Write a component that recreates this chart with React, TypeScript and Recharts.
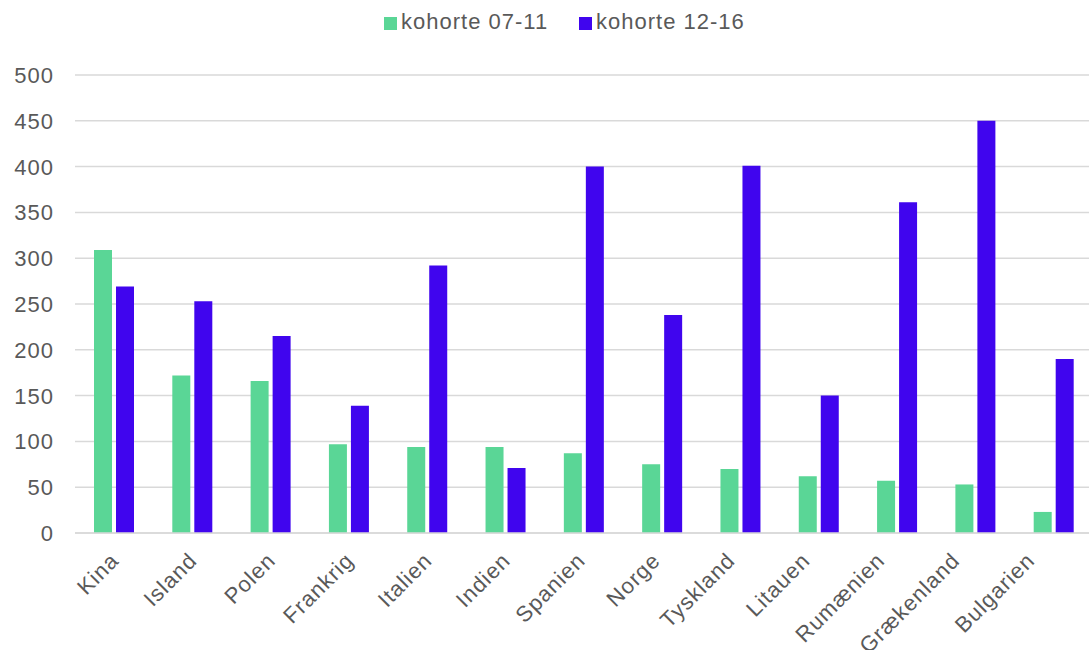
import React from "react";
import { BarChart, Bar, XAxis, YAxis, CartesianGrid, Legend } from "recharts";

const countries = ["Kina", "Island", "Polen", "Frankrig", "Italien", "Indien", "Spanien", "Norge", "Tyskland", "Litauen", "Rumænien", "Grækenland", "Bulgarien"];
const kohorte0711 = [309, 172, 166, 97, 94, 94, 87, 75, 70, 62, 57, 53, 23];
const kohorte1216 = [269, 253, 215, 139, 292, 71, 400, 238, 401, 150, 361, 450, 190];
const yTicks = [0, 50, 100, 150, 200, 250, 300, 350, 400, 450, 500];
const seriesNames = ["kohorte 07-11", "kohorte 12-16"];
const colors = ["#5AD696", "#4005EE"];

const data = countries.map((c, i) => ({ name: c, a: kohorte0711[i], b: kohorte1216[i] }));

const FONT = "'Liberation Sans', Arial, sans-serif";
const TXT = "#595959";

const XTick = (props: any) => {
  const { x, y, payload, index } = props;
  const off = index <= 5 ? 6 : 6 - (index - 5) * 3.4;
  return (
    <text
      transform={`translate(${x + off},${y + 29}) rotate(-45)`}
      textAnchor="end"
      fill={TXT}
      fontSize={22}
      fontFamily={FONT}
      letterSpacing={1}
    >
      {payload.value}
    </text>
  );
};

const YTick = (props: any) => {
  const { x, y, payload } = props;
  return (
    <text x={x} y={y} dy={8} textAnchor="end" fill={TXT} fontSize={22} fontFamily={FONT} letterSpacing={1}>
      {payload.value}
    </text>
  );
};

const LegendContent = () => (
  <div style={{ height: 75, position: "relative", fontFamily: FONT, fontSize: 22, color: TXT, letterSpacing: 1 }}>
    {seriesNames.map((n, i) => (
      <div key={n} style={{ position: "absolute", left: i === 0 ? 384 : 579, top: 9, display: "flex", alignItems: "center", whiteSpace: "nowrap" }}>
        <span style={{ display: "inline-block", width: 13, height: 13, background: colors[i], marginRight: 4, marginTop: 3 }} />
        <span>{n}</span>
      </div>
    ))}
  </div>
);

export default function App() {
  return (
    <div style={{ position: "absolute", left: 0, top: 0, width: 1089, height: 650, overflow: "hidden", background: "#fff" }}>
      <BarChart width={1100} height={650} data={data} margin={{ top: 0, right: 7, left: 0, bottom: 0 }} barGap={4} barSize={18}>
        <CartesianGrid vertical={false} stroke="#d9d9d9" strokeWidth={1.5} />
        <XAxis
          dataKey="name"
          height={117}
          interval={0}
          tickLine={false}
          axisLine={{ stroke: "#d9d9d9", strokeWidth: 1.5 }}
          tick={<XTick />}
          tickSize={0}
          tickMargin={0}
        />
        <YAxis
          width={75}
          domain={[0, 500]}
          ticks={yTicks}
          tickLine={false}
          axisLine={false}
          tickSize={0}
          tickMargin={21}
          tick={<YTick />}
        />
        <Legend verticalAlign="top" content={<LegendContent />} wrapperStyle={{ top: 0, left: 0, width: 1100, height: 75 }} />
        <Bar dataKey="a" name={seriesNames[0]} fill={colors[0]} isAnimationActive={false} />
        <Bar dataKey="b" name={seriesNames[1]} fill={colors[1]} isAnimationActive={false} />
      </BarChart>
    </div>
  );
}
